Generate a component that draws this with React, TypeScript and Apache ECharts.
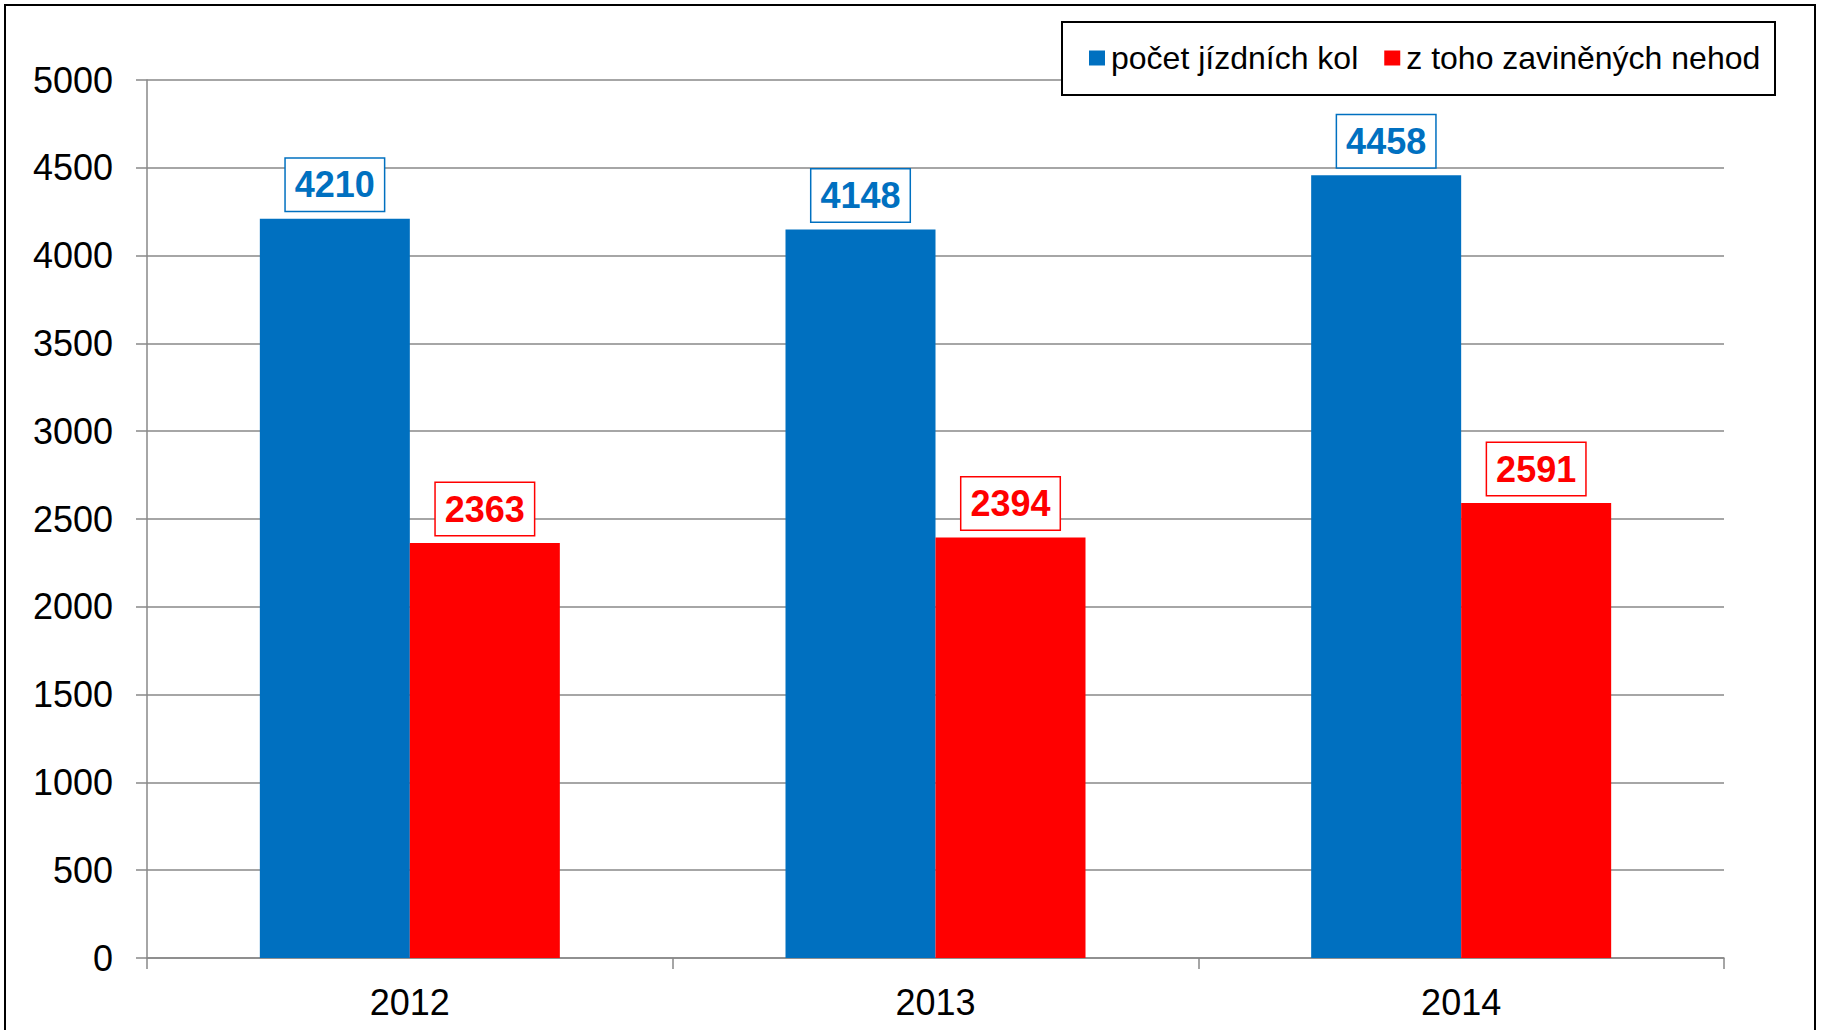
import React, { useEffect, useRef } from "react";
import * as echarts from "echarts";

const categories = ["2012", "2013", "2014"];
const seriesNames = ["počet jízdních kol", "z toho zaviněných nehod"];
const bikes = [4210, 4148, 4458];
const accidents = [2363, 2394, 2591];
const colors = ["#0070C0", "#FF0000"];
const FONT = "'Liberation Sans', Arial, sans-serif";

export default function App() {
  const ref = useRef<HTMLDivElement>(null);
  useEffect(() => {
    document.body.style.margin = "0";
    const chart = echarts.init(ref.current!, null, { renderer: "svg" });
    const labelFor = (c: string) => ({
      show: true,
      position: "top",
      distance: 8,
      color: c,
      fontFamily: FONT,
      fontWeight: "bold",
      fontSize: 36,
      lineHeight: 36,
      backgroundColor: "#fff",
      borderColor: c,
      borderWidth: 1.5,
      padding: [8, 9, 8, 9],
    });
    chart.setOption({
      animation: false,
      backgroundColor: "#fff",
      textStyle: { fontFamily: FONT },
      grid: { left: 147, right: 101, top: 80, bottom: 72, containLabel: false },
      graphic: [
        {
          type: "rect",
          shape: { x: 5, y: 5, width: 1810, height: 1060 },
          style: { fill: "none", stroke: "#000", lineWidth: 2 },
          silent: true,
        },
        {
          type: "rect",
          shape: { x: 1062, y: 22, width: 713, height: 73 },
          style: { fill: "#fff", stroke: "#000", lineWidth: 2 },
          z: 10,
          silent: true,
        },
      ],
      legend: {
        left: 1089,
        top: 42,
        padding: 0,
        itemWidth: 16,
        itemHeight: 15,
        itemGap: 26,
        icon: "rect",
        z: 20,
        textStyle: { fontFamily: FONT, fontSize: 32, color: "#000", padding: [0, 0, 0, 1] },
        data: seriesNames,
      },
      xAxis: {
        type: "category",
        data: categories,
        axisLine: { lineStyle: { color: "#888", width: 1.5 } },
        axisTick: { show: true, length: 11, lineStyle: { color: "#888", width: 1.5 } },
        axisLabel: { color: "#000", fontSize: 36, fontFamily: FONT, margin: 26 },
      },
      yAxis: {
        type: "value",
        min: 0,
        max: 5000,
        interval: 500,
        axisLine: { show: true, lineStyle: { color: "#888", width: 1.5 } },
        axisTick: { show: true, length: 11, lineStyle: { color: "#888", width: 1.5 } },
        splitLine: { lineStyle: { color: "#888", width: 1.5 } },
        axisLabel: {
          color: "#000",
          fontSize: 36,
          fontFamily: FONT,
          margin: 34,
          formatter: (v: number) => String(v),
        },
      },
      series: [
        {
          name: seriesNames[0],
          type: "bar",
          data: bikes,
          barWidth: 150,
          barGap: "0%",
          itemStyle: { color: colors[0] },
          label: labelFor(colors[0]),
        },
        {
          name: seriesNames[1],
          type: "bar",
          data: accidents,
          barWidth: 150,
          barGap: "0%",
          itemStyle: { color: colors[1] },
          label: labelFor(colors[1]),
        },
      ],
    });
    return () => chart.dispose();
  }, []);
  return <div ref={ref} style={{ width: 1825, height: 1030 }} />;
}
